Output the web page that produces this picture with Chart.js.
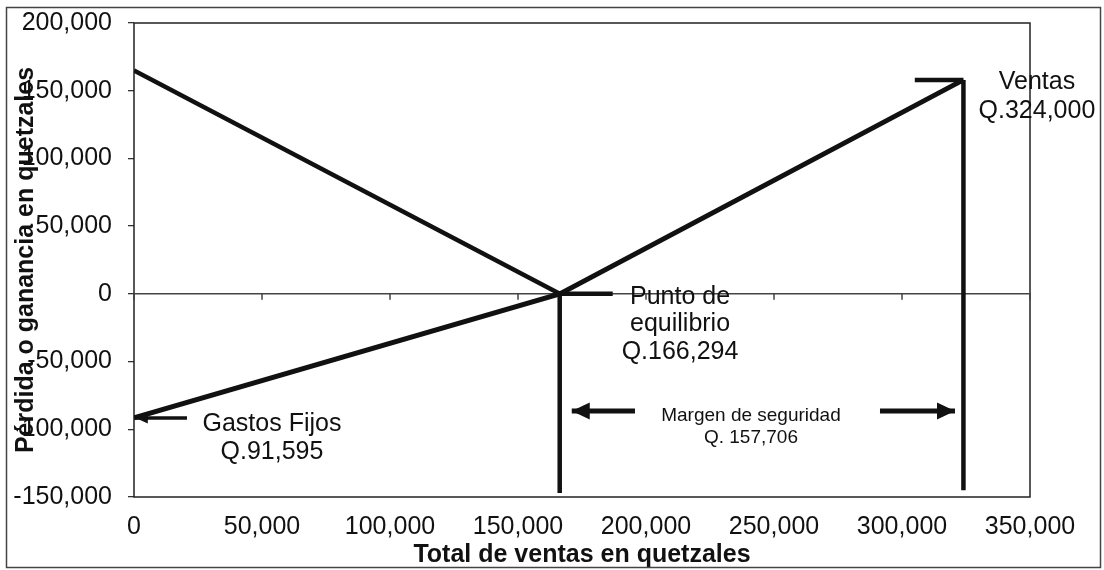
<!DOCTYPE html>
<html lang="es">
<head>
<meta charset="utf-8">
<title>Punto de equilibrio</title>
<script src="https://cdn.jsdelivr.net/npm/chart.js@4/dist/chart.umd.min.js"></script>
<style>
  html, body { margin: 0; padding: 0; background: #fff; }
  #wrap { position: relative; width: 1104px; height: 570px; }
</style>
</head>
<body>
<div id="wrap"><canvas id="equilibrio"></canvas></div>
<script>
// Ventas totales (eje X) contra pérdida o ganancia (eje Y), en quetzales
const puntoEquilibrio = 166294
const ventasTotales = 324000

const resultadoX = [0, puntoEquilibrio, ventasTotales]
const resultadoY = [-91595, 0, 158000]
const perdidaX = [0, puntoEquilibrio]
const perdidaY = [165000, 0]

// líneas verticales de equilibrio y de ventas
const equilibrioY = [0, -147000]
const ventasY = [158000, -145000]

// marcas cortas y flechas (x inicial, x final / punta)
const marcaVentasX = [305000, ventasTotales]
const marcaEquilibrioX = [puntoEquilibrio, 187000]
const flechaGastosX = [20700, 700]
const flechaMargenIzqX = [195700, 171000]
const flechaMargenDerX = [291400, 320700]
const nivelGastos = -91595
const nivelMargen = -86500

const xTicks = [0, 50000, 100000, 150000, 200000, 250000, 300000, 350000]
const yTicks = [-150000, -100000, -50000, 0, 50000, 100000, 150000, 200000]

const etiquetas = [
  { lineas: ['Ventas', 'Q.324,000'], x: 352700, y: 156400, size: 25, alto: 29 },
  { lineas: ['Punto de', 'equilibrio', 'Q.166,294'], x: 213300, y: -2300, size: 25, alto: 27.5 },
  { lineas: ['Gastos Fijos', 'Q.91,595'], x: 53900, y: -96100, size: 25, alto: 28 },
  { lineas: ['Margen de seguridad', 'Q. 157,706'], x: 241000, y: -90200, size: 19, alto: 22 },
]

const FUENTE = "'Liberation Sans', Arial, sans-serif"
const NEGRO = '#111'
Chart.defaults.font.family = FUENTE
Chart.defaults.color = NEGRO

const puntos = (xs, ys) => xs.map((x, i) => ({ x, y: Array.isArray(ys) ? ys[i] : ys }))
const fmt = v => Number(v).toLocaleString('en-US')

const datasets = [
  { label: 'Resultado', data: puntos(resultadoX, resultadoY), borderWidth: 5 },
  { label: 'Pérdida', data: puntos(perdidaX, perdidaY), borderWidth: 4.5 },
  { label: 'Equilibrio', data: puntos([puntoEquilibrio, puntoEquilibrio], equilibrioY), borderWidth: 4.5 },
  { label: 'Ventas', data: puntos([ventasTotales, ventasTotales], ventasY), borderWidth: 4.5 },
  { label: 'Marca ventas', data: puntos(marcaVentasX, resultadoY[2]), borderWidth: 4.5 },
  { label: 'Marca equilibrio', data: puntos(marcaEquilibrioX, 0), borderWidth: 4.5 },
  { label: 'Flecha gastos', data: puntos(flechaGastosX, nivelGastos), borderWidth: 3.5, punta: [12, 11] },
  { label: 'Margen izq', data: puntos(flechaMargenIzqX, nivelMargen), borderWidth: 5, punta: [18, 17] },
  { label: 'Margen der', data: puntos(flechaMargenDerX, nivelMargen), borderWidth: 5, punta: [18, 17] },
].map(d => ({
  ...d,
  showLine: true,
  borderColor: NEGRO,
  backgroundColor: NEGRO,
  pointRadius: 0,
  pointHoverRadius: 0,
  tension: 0,
  borderCapStyle: 'butt',
}))

const extras = {
  id: 'extras',
  beforeDatasetsDraw(chart) {
    const { ctx, chartArea: a, scales: { x, y } } = chart
    ctx.save()
    // marco exterior
    ctx.strokeStyle = '#444'
    ctx.lineWidth = 1.5
    ctx.strokeRect(6.5, 7.5, 1094, 560)
    // área de trazado
    ctx.strokeStyle = '#222'
    ctx.strokeRect(a.left, a.top, a.width, a.height)
    // eje horizontal en cero, con marcas hacia abajo
    const y0 = y.getPixelForValue(0)
    ctx.beginPath()
    ctx.moveTo(a.left, y0)
    ctx.lineTo(a.right, y0)
    xTicks.forEach(v => {
      const px = x.getPixelForValue(v)
      ctx.moveTo(px, y0)
      ctx.lineTo(px, y0 + 6)
    })
    ctx.strokeStyle = '#444'
    ctx.lineWidth = 1.5
    ctx.stroke()
    ctx.restore()
  },
  afterDatasetsDraw(chart) {
    const { ctx } = chart
    ctx.save()
    ctx.fillStyle = NEGRO
    chart.data.datasets.forEach((ds, i) => {
      if (!ds.punta) return
      const pts = chart.getDatasetMeta(i).data
      const p0 = pts[pts.length - 2], p1 = pts[pts.length - 1]
      const ang = Math.atan2(p1.y - p0.y, p1.x - p0.x)
      const [largo, ancho] = ds.punta
      ctx.save()
      ctx.translate(p1.x, p1.y)
      ctx.rotate(ang)
      ctx.beginPath()
      ctx.moveTo(0, 0)
      ctx.lineTo(-largo, -ancho / 2)
      ctx.lineTo(-largo, ancho / 2)
      ctx.closePath()
      ctx.fill()
      ctx.restore()
    })
    ctx.restore()
  },
  afterDraw(chart) {
    const { ctx, scales: { x, y } } = chart
    ctx.save()
    ctx.fillStyle = NEGRO
    ctx.textAlign = 'center'
    ctx.textBaseline = 'middle'
    etiquetas.forEach(e => {
      ctx.font = `${e.size}px ${FUENTE}`
      const px = x.getPixelForValue(e.x)
      const py = y.getPixelForValue(e.y)
      e.lineas.forEach((t, k) => ctx.fillText(t, px, py + k * e.alto))
    })
    ctx.restore()
  },
}

new Chart(document.getElementById('equilibrio'), {
  type: 'scatter',
  data: { datasets },
  options: {
    responsive: true,
    maintainAspectRatio: false,
    animation: false,
    events: [],
    layout: { padding: { left: 0, top: 23, right: 74, bottom: 0 } },
    plugins: { legend: { display: false }, tooltip: { enabled: false } },
    scales: {
      x: {
        type: 'linear',
        min: 0,
        max: 350000,
        afterFit: s => {
          s.height = 73
          s.paddingLeft = 0
          s.paddingRight = 0
        },
        afterBuildTicks: s => { s.ticks = xTicks.map(value => ({ value })) },
        border: { display: false },
        grid: { display: false, drawTicks: false },
        ticks: { padding: 15, font: { size: 25 }, color: NEGRO, callback: fmt, maxRotation: 0 },
        title: {
          display: true,
          text: 'Total de ventas en quetzales',
          font: { size: 25, weight: 'bold' },
          color: NEGRO,
          padding: { top: 0, bottom: 0 },
        },
      },
      y: {
        type: 'linear',
        min: -150000,
        max: 200000,
        afterFit: s => {
          s.width = 134
          s.paddingTop = 0
          s.paddingBottom = 0
        },
        afterBuildTicks: s => { s.ticks = yTicks.map(value => ({ value })) },
        border: { display: false },
        grid: { drawOnChartArea: false, drawTicks: true, tickLength: 6, tickColor: '#333', lineWidth: 1.3 },
        ticks: { padding: 16, font: { size: 25 }, color: NEGRO, callback: fmt },
        title: {
          display: true,
          text: 'Pérdida o ganancia en quetzales',
          font: { size: 25, weight: 'bold' },
          color: NEGRO,
          padding: { top: 11, bottom: 0 },
        },
      },
    },
  },
  plugins: [extras],
})
</script>
</body>
</html>
